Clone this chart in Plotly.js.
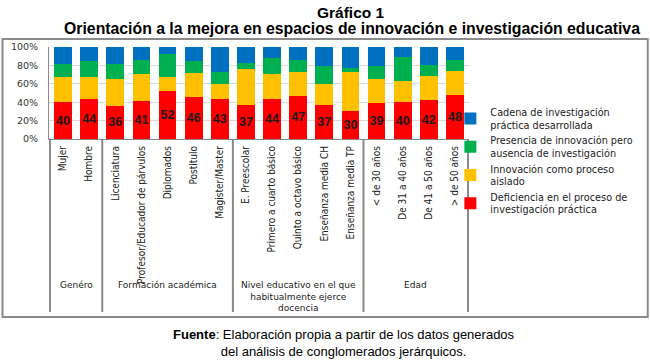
<!DOCTYPE html>
<html>
<head>
<meta charset="utf-8">
<script src="https://cdn.plot.ly/plotly-3.0.1.min.js"></script>
<style>html,body{margin:0;padding:0;background:#fff;}#chart{width:650px;height:361px;}</style>
</head>
<body>
<div id="chart"></div>
<script>
const categories = ['Mujer','Hombre','Licenciatura','Profesor/Educador de párvulos','Diplomados','Postitulo','Magister/Master','E. Preescolar','Primero a cuarto básico','Quinto a octavo básico','Enseñanza media CH','Enseñanza media TP','< de 30 años','De 31 a 40 años','De 41 a 50 años','> de 50 años'];
const deficiencia = [40,44,36,41,52,46,43,37,44,47,37,30,39,40,42,48];
const aislado     = [27,23,29,30,15,26,17,39,27,26,23,43,26,23,27,26];
const presencia   = [15,18,17,15,25,13,13, 7,17,13,19, 4,14,26,11,12];
const cadena      = [18,15,18,14, 8,15,27,17,12,14,21,23,21,11,20,14];
const seriesNames = ['Deficiencia en el proceso de<br>investigación práctica','Innovación como proceso<br>aislado','Presencia de innovación pero<br>ausencia de investigación','Cadena de investigación<br>práctica desarrollada'];
const groupLabels = ['Genéro','Formación académica','Nivel educativo en el que<br>habitualmente ejerce<br>docencia','Edad'];
const groupSizes = [2,5,5,4];
const yTicks = [0,20,40,60,80,100];

const colors = ['#FF0000','#FFC000','#00B050','#0070C0'];
const values = [deficiencia, aislado, presencia, cadena];

const traces = values.map((v,i)=>({
  type:'bar', x:categories, y:v, name:seriesNames[i],
  marker:{color:colors[i], line:{width:0}},
  text: i===0 ? v.map(String) : undefined,
  textposition: i===0 ? 'inside' : 'none',
  insidetextanchor:'middle', textangle:0, constraintext:'none',
  textfont:{family:'Liberation Sans, Arial, sans-serif', size:12.5, color:'#1a1a1a', weight:'bold'},
  hoverinfo:'x+y+name'
}));

const plotTop=47, plotBottom=139, plotH=plotBottom-plotTop;
const plotLeft=49.4, plotRight=468.6, plotW=plotRight-plotLeft;
const py = p => (plotBottom-p)/plotH;
const px = p => (p-plotLeft)/plotW;

const shapes = [];
shapes.push({type:'rect', xref:'paper', yref:'paper', x0:px(3), x1:px(647), y0:py(317), y1:py(39), line:{color:'#8a8a8a', width:2}, layer:'below'});
let b=-0.5; const bounds=[b];
groupSizes.forEach(s=>{b+=s; bounds.push(b);});
bounds.forEach(x=>shapes.push({type:'line', xref:'x', yref:'paper', x0:x, x1:x, y0:0, y1:py(312), line:{color:'#8a8a8a', width:2}}));

const annotations = [];
let start=0;
groupSizes.forEach((s,i)=>{
  const c = start + (s-1)/2; start+=s;
  annotations.push({xref:'x', yref:'paper', x:c, y:py(278), yanchor:'top', showarrow:false,
    text:groupLabels[i], align:'center',
    font:{family:'DejaVu Sans, sans-serif', size:9, color:'#222'}});
});
annotations.push({xref:'paper', yref:'paper', x:px(351), y:py(12.5), yanchor:'middle', xanchor:'center', showarrow:false,
  text:'<b>Gráfico 1</b>', font:{family:'Liberation Sans, Arial, sans-serif', size:15.5, color:'#000'}});
annotations.push({xref:'paper', yref:'paper', x:px(344), y:py(325), yanchor:'top', xanchor:'center', showarrow:false, align:'center',
  text:'<b>Fuente</b>: Elaboración propia a partir de los datos generados<br>del análisis de conglomerados jerárquicos.',
  font:{family:'Liberation Sans, Arial, sans-serif', size:13, color:'#000'}});

const layout = {
  width:650, height:361,
  margin:{l:plotLeft, r:650-plotRight, t:plotTop, b:361-plotBottom, pad:0, autoexpand:false},
  paper_bgcolor:'#fff', plot_bgcolor:'#fff',
  barmode:'stack', barnorm:'percent', bargap:0.32,
  title:{text:'<b>Orientación a la mejora en espacios de innovación e investigación educativa</b>',
    xref:'container', x:352/650, xanchor:'center', yref:'container', y:1-28.5/361, yanchor:'middle',
    font:{family:'Liberation Sans, Arial, sans-serif', size:15.8, color:'#000'}},
  xaxis:{type:'category', tickangle:-90, showgrid:false, showline:true, linecolor:'#8a8a8a', linewidth:1, ticks:'',
    tickfont:{family:'Liberation Sans Narrow, DejaVu Sans Condensed, sans-serif', size:10, color:'#222'}, ticklabelstandoff:2},
  yaxis:{range:[0,100], tickvals:yTicks, ticktext:yTicks.map(t=>t+'%'), showgrid:true, gridcolor:'#d9d9d9', gridwidth:1,
    showline:true, linecolor:'#8a8a8a', linewidth:1, ticks:'', zeroline:false, ticklabelstandoff:8,
    tickfont:{family:'DejaVu Sans, sans-serif', size:9.5, color:'#333'}},
  legend:{traceorder:'reversed', x:px(450), xanchor:'left', y:py(99.5), yanchor:'top', maxheight:230,
    font:{family:'DejaVu Sans, sans-serif', size:9.7, color:'#222'}, bgcolor:'rgba(0,0,0,0)', itemclick:false},
  shapes:shapes, annotations:annotations, showlegend:true
};

Plotly.newPlot('chart', traces, layout, {displayModeBar:false, staticPlot:true});
</script>
</body>
</html>
